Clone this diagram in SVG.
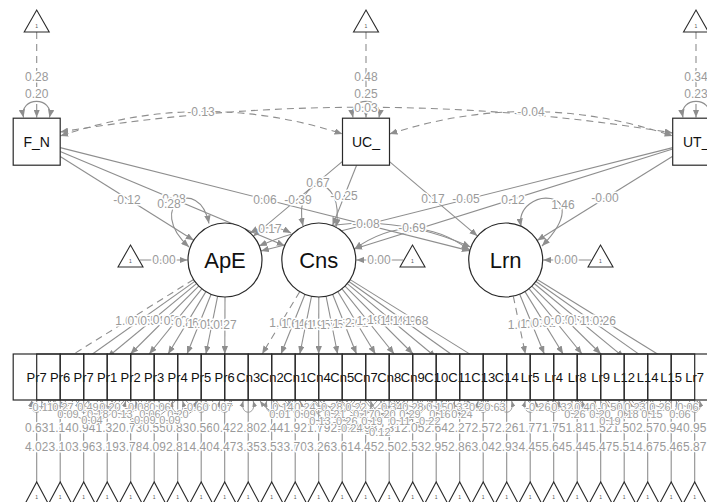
<svg xmlns="http://www.w3.org/2000/svg" width="707" height="502" viewBox="0 0 707 502">
<style>
.e{fill:none;stroke:#8e8e8e;stroke-width:1.1}
.r{fill:none;stroke:#9a9a9a;stroke-width:1}
.d{stroke-dasharray:7 5}
.a{marker-end:url(#ar)}
.b{marker-start:url(#ar);marker-end:url(#ar)}
.c{marker-start:url(#sm);marker-end:url(#sm)}
.l{font-family:"Liberation Sans",Arial,sans-serif;font-size:12px;fill:#9a9a9a;text-anchor:middle;paint-order:stroke;stroke:#fff;stroke-width:3px;stroke-linejoin:round}
.m{font-family:"Liberation Sans",Arial,sans-serif;font-size:11px;fill:#a0a0a0;text-anchor:middle;paint-order:stroke;stroke:#fff;stroke-width:2px;stroke-linejoin:round}
.n{fill:#fff;stroke:#2a2a2a;stroke-width:1.2}
.o{fill:none;stroke:#2a2a2a;stroke-width:1.2}
.t{font-family:"Liberation Sans",Arial,sans-serif;fill:#111;text-anchor:middle}
.s{font-size:13px}
.tr{fill:#fff;stroke:#2a2a2a;stroke-width:1.1}
.one{font-family:"Liberation Sans",Arial,sans-serif;font-size:5px;fill:#555;text-anchor:middle}
</style>
<defs>
<marker id="ar" viewBox="0 0 10 8" refX="10" refY="4" markerWidth="8" markerHeight="6.4" markerUnits="userSpaceOnUse" orient="auto-start-reverse"><path d="M0,0 L10,4 L0,8 z" fill="#8e8e8e"/></marker>
<marker id="sm" viewBox="0 0 10 8" refX="10" refY="4" markerWidth="6" markerHeight="4.8" markerUnits="userSpaceOnUse" orient="auto-start-reverse"><path d="M0,0 L10,4 L0,8 z" fill="#8e8e8e"/></marker>
</defs>
<rect width="707" height="502" fill="#fff"/>
<g id="connectors">
<path class="e d a" d="M36.7,32V117.5"/>
<path class="e d a" d="M366,32V117.5"/>
<path class="e d a" d="M696,32V117.5"/>
<path class="e b" d="M23.5,117.5C19,96 54,96 49.5,117.5"/>
<path class="e b" d="M353,117.5C348.5,96 383.5,96 379,117.5"/>
<path class="e b" d="M683,117.5C678.5,96 713.5,96 709,117.5"/>
<path class="e d b" d="M60.2,136Q201,88 342.5,134"/>
<path class="e d b" d="M60.2,132Q366,82 672.7,133"/>
<path class="e d b" d="M389.5,134Q531,88 672.7,136"/>
<path class="e a" d="M60.2,156.5L193.7,240.3"/>
<path class="e a" d="M60.2,151.6L284.7,245.7"/>
<path class="e a" d="M60.2,147.6L469.8,250.9"/>
<path class="e a" d="M342.5,161.4L253.3,236.2"/>
<path class="e a" d="M356.6,165.2L332.5,225.6"/>
<path class="e a" d="M389.5,161.6L477.5,236.1"/>
<path class="e a" d="M672.7,147.6L260.9,251"/>
<path class="e a" d="M672.7,149.1L354.1,248.9"/>
<path class="e a" d="M672.7,156.3L537.1,240.5"/>
<path class="e b" d="M209,223.5C199,174 144,206 189,247"/>
<path class="e b" d="M303,226C292,172 346,172 336,227"/>
<path class="e b" d="M521,226.5C514,186 600,186 542,246"/>
<path class="e b" d="M250,233Q270,222 291,233"/>
<path class="e b" d="M259,246Q366,200 470.5,247"/>
<path class="e b" d="M354.5,249Q412,208 469.5,250"/>
<path class="e a" d="M140,260H187.5"/>
<path class="e a" d="M403,260H356.3"/>
<path class="e a" d="M591,260H543.2"/>
<path class="e d a" d="M193.6,279.5L60.2,362.4"/>
<path class="e a" d="M194.8,281.4L83.7,360.3"/>
<path class="e a" d="M196.5,283.6L107.2,357.5"/>
<path class="e a" d="M198.7,286.1L130.4,354"/>
<path class="e a" d="M201.8,288.8L149.2,354"/>
<path class="e a" d="M205.9,291.6L168.1,354"/>
<path class="e a" d="M211.1,294.3L187,354"/>
<path class="e a" d="M217.6,296.3L205.9,354"/>
<path class="e a" d="M225,297L224.8,354"/>
<path class="e d a" d="M299.7,291.7L262.1,354"/>
<path class="e a" d="M305,294.3L281,354"/>
<path class="e a" d="M311.5,296.3L299.8,354"/>
<path class="e a" d="M318.8,297L318.7,354"/>
<path class="e a" d="M326.1,296.3L337.6,354"/>
<path class="e a" d="M332.6,294.3L356.5,354"/>
<path class="e a" d="M337.9,291.7L375.4,354"/>
<path class="e a" d="M342,288.9L394.2,354"/>
<path class="e a" d="M345,286.1L413.1,354"/>
<path class="e a" d="M347.3,283.6L436.2,357.5"/>
<path class="e a" d="M348.9,281.5L459.7,360.3"/>
<path class="e a" d="M350.2,279.6L483.2,362.4"/>
<path class="e d a" d="M513.3,296.2L525.4,354"/>
<path class="e a" d="M519.7,294.2L544.3,354"/>
<path class="e a" d="M525,291.6L563.1,354"/>
<path class="e a" d="M529,288.7L582,354"/>
<path class="e a" d="M532,286.3L600.9,354"/>
<path class="e a" d="M534.2,283.5L624.2,357.6"/>
<path class="e a" d="M535.7,281.2L647.7,360.4"/>
<path class="e a" d="M537.2,279.5L671.2,362.5"/>
<path class="e a" d="M36.7,482V401M60.2,482V401M83.7,482V401M107.2,482V401M130.7,482V401M154.2,482V401M177.7,482V401M201.2,482V401M224.7,482V401M248.2,482V401M271.7,482V401M295.2,482V401M318.7,482V401M342.2,482V401M365.7,482V401M389.2,482V401M412.7,482V401M436.2,482V401M459.7,482V401M483.2,482V401M506.7,482V401M530.2,482V401M553.7,482V401M577.2,482V401M600.7,482V401M624.2,482V401M647.7,482V401M671.2,482V401M694.7,482V401"/>
<g class="r c">
<path d="M31.7,401C27.7,416 45.7,416 41.7,401"/>
<path d="M55.2,401C51.2,416 69.2,416 65.2,401"/>
<path d="M78.7,401C74.7,416 92.7,416 88.7,401"/>
<path d="M102.2,401C98.2,416 116.2,416 112.2,401"/>
<path d="M125.7,401C121.7,416 139.7,416 135.7,401"/>
<path d="M149.2,401C145.2,416 163.2,416 159.2,401"/>
<path d="M172.7,401C168.7,416 186.7,416 182.7,401"/>
<path d="M196.2,401C192.2,416 210.2,416 206.2,401"/>
<path d="M219.7,401C215.7,416 233.7,416 229.7,401"/>
<path d="M243.2,401C239.2,416 257.2,416 253.2,401"/>
<path d="M266.7,401C262.7,416 280.7,416 276.7,401"/>
<path d="M290.2,401C286.2,416 304.2,416 300.2,401"/>
<path d="M313.7,401C309.7,416 327.7,416 323.7,401"/>
<path d="M337.2,401C333.2,416 351.2,416 347.2,401"/>
<path d="M360.7,401C356.7,416 374.7,416 370.7,401"/>
<path d="M384.2,401C380.2,416 398.2,416 394.2,401"/>
<path d="M407.7,401C403.7,416 421.7,416 417.7,401"/>
<path d="M431.2,401C427.2,416 445.2,416 441.2,401"/>
<path d="M454.7,401C450.7,416 468.7,416 464.7,401"/>
<path d="M478.2,401C474.2,416 492.2,416 488.2,401"/>
<path d="M501.7,401C497.7,416 515.7,416 511.7,401"/>
<path d="M525.2,401C521.2,416 539.2,416 535.2,401"/>
<path d="M548.7,401C544.7,416 562.7,416 558.7,401"/>
<path d="M572.2,401C568.2,416 586.2,416 582.2,401"/>
<path d="M595.7,401C591.7,416 609.7,416 605.7,401"/>
<path d="M619.2,401C615.2,416 633.2,416 629.2,401"/>
<path d="M642.7,401C638.7,416 656.7,416 652.7,401"/>
<path d="M666.2,401C662.2,416 680.2,416 676.2,401"/>
<path d="M689.7,401C685.7,416 703.7,416 699.7,401"/>
<path d="M31,401Q41,413 51,401M53,401Q63,413 73,401M78,401Q88,413 98,401M100,401Q110,413 120,401M127,401Q137,413 147,401M150,401Q160,413 170,401M186,401Q196,413 206,401M212,401Q222,413 232,401"/>
<path d="M48,401Q68,427 88,401M76,401Q96,427 116,401M102,401Q122,427 142,401M130,401Q150,427 170,401M158,401Q178,427 198,401"/>
<path d="M60,401Q92,441 124,401M111,401Q143,441 175,401M138,401Q170,441 202,401"/>
<path d="M273,401Q283,413 293,401M295,401Q305,413 315,401M320,401Q330,413 340,401M346,401Q356,413 366,401M380,401Q390,413 400,401M403,401Q413,413 423,401M427,401Q437,413 447,401M448,401Q458,413 468,401"/>
<path d="M260,401Q280,427 300,401M285,401Q305,427 325,401M315,401Q335,427 355,401M342,401Q362,427 382,401M365,401Q385,427 405,401M390,401Q410,427 430,401M420,401Q440,427 460,401M442,401Q462,427 482,401"/>
<path d="M288,401Q320,441 352,401M313,401Q345,441 377,401M340,401Q372,441 404,401M368,401Q400,441 432,401M396,401Q428,441 460,401M305,401Q350,455 395,401M323,401Q378,461 433,401"/>
<path d="M468,401Q478,413 488,401M485,401Q495,413 505,401M528,401Q538,413 548,401M552,401Q562,413 572,401M575,401Q585,413 595,401M600,401Q610,413 620,401M625,401Q635,413 645,401M650,401Q660,413 670,401M678,401Q688,413 698,401"/>
<path d="M555,401Q575,427 595,401M580,401Q600,427 620,401M608,401Q628,427 648,401M632,401Q652,427 672,401M660,401Q680,427 700,401M578,401Q610,441 642,401"/>
</g>
<g class="l">
<text x="36.7" y="81">0.28</text><text x="36.7" y="98">0.20</text>
<text x="366" y="81">0.48</text><text x="366" y="98">0.25</text>
<text x="696" y="81">0.34</text><text x="696" y="98">0.23</text>
<text x="201" y="116">-0.13</text><text x="366" y="112">0.03</text><text x="531" y="116">-0.04</text>
<text x="127" y="204">-0.12</text><text x="172" y="203">-0.28</text><text x="169" y="208">0.28</text>
<text x="265" y="204">0.06</text><text x="298" y="204">-0.39</text><text x="318" y="187">0.67</text>
<text x="344" y="200">-0.25</text><text x="433" y="203">0.17</text><text x="466" y="203">-0.05</text>
<text x="513" y="204">0.12</text><text x="563" y="209">1.46</text><text x="605" y="202">-0.00</text>
<text x="270" y="233">0.17</text><text x="366" y="228">-0.08</text><text x="412" y="232">-0.69</text>
<text x="164" y="264">0.00</text><text x="379" y="264">0.00</text><text x="566" y="264">0.00</text>
<text x="126.9" y="325">1.00</text><text x="139.2" y="325">0.65</text><text x="151.9" y="325">0.54</text><text x="164.5" y="324">0.69</text><text x="175.5" y="325">0.80</text><text x="187" y="327">0.86</text><text x="199" y="328">1.14</text><text x="211.8" y="329">0.34</text><text x="225" y="329">0.27</text>
<text x="280.9" y="327">1.00</text><text x="293" y="328">1.64</text><text x="305.6" y="329">1.61</text><text x="318.8" y="329">1.95</text><text x="331.8" y="329">1.75</text><text x="344.5" y="328">1.78</text><text x="356.7" y="327">2.02</text><text x="368.1" y="325">1.88</text><text x="379" y="324">1.84</text><text x="391.7" y="325">1.54</text><text x="404.3" y="325">1.89</text><text x="416.7" y="325">1.68</text>
<text x="519.4" y="329">1.00</text><text x="532" y="328">1.09</text><text x="544" y="327">0.92</text><text x="555.5" y="325">0.47</text><text x="566.5" y="324">0.91</text><text x="579.2" y="325">0.71</text><text x="591.7" y="325">1.19</text><text x="604.2" y="325">0.26</text>
<text x="36.7" y="432">0.63</text><text x="60.2" y="432">1.14</text><text x="83.7" y="432">0.94</text><text x="107.2" y="432">1.32</text><text x="130.7" y="432">0.73</text><text x="154.2" y="432">0.55</text><text x="177.7" y="432">0.83</text><text x="201.2" y="432">0.56</text><text x="224.7" y="432">0.42</text><text x="248.2" y="432">2.80</text><text x="271.7" y="432">2.44</text><text x="295.2" y="432">1.92</text><text x="318.7" y="432">1.79</text><text x="342.2" y="432">2.12</text><text x="365.7" y="432">1.98</text><text x="389.2" y="432">2.31</text><text x="412.7" y="432">2.05</text><text x="436.2" y="432">2.64</text><text x="459.7" y="432">2.27</text><text x="483.2" y="432">2.57</text><text x="506.7" y="432">2.26</text><text x="530.2" y="432">1.77</text><text x="553.7" y="432">1.75</text><text x="577.2" y="432">1.81</text><text x="600.7" y="432">1.52</text><text x="624.2" y="432">1.50</text><text x="647.7" y="432">2.57</text><text x="671.2" y="432">0.94</text><text x="694.7" y="432">0.95</text>
</g>
<g class="m">
<text x="41" y="411">-0.11</text><text x="63" y="411">0.27</text><text x="88" y="411">0.49</text><text x="110" y="411">0.20</text><text x="137" y="411">-0.08</text><text x="160" y="411">0.06</text><text x="196" y="411">-0.60</text><text x="222" y="411">0.07</text>
<text x="68" y="418">0.09</text><text x="96" y="418">-0.18</text><text x="122" y="418">0.13</text><text x="150" y="418">0.06</text><text x="178" y="418">0.20</text>
<text x="92" y="424">0.04</text><text x="143" y="424">-0.09</text><text x="170" y="424">0.09</text>
<text x="283" y="411">0.14</text><text x="305" y="411">0.24</text><text x="330" y="411">-0.28</text><text x="356" y="411">0.22</text><text x="390" y="411">-0.34</text><text x="413" y="411">0.28</text><text x="437" y="411">0.15</text><text x="458" y="411">0.33</text>
<text x="280" y="418">0.01</text><text x="305" y="418">0.09</text><text x="335" y="418">0.21</text><text x="362" y="418">-0.17</text><text x="385" y="418">0.20</text><text x="410" y="418">0.29</text><text x="440" y="418">0.16</text><text x="462" y="418">0.24</text>
<text x="320" y="425">0.13</text><text x="345" y="425">-0.26</text><text x="372" y="425">0.19</text><text x="400" y="425">0.11</text><text x="428" y="425">-0.22</text>
<text x="350" y="432">-0.24</text><text x="378" y="436">-0.12</text>
<text x="478" y="411">-0.24</text><text x="495" y="411">0.63</text><text x="538" y="411">-0.26</text><text x="562" y="411">0.32</text><text x="585" y="411">0.40</text><text x="610" y="411">-0.50</text><text x="635" y="411">0.23</text><text x="660" y="411">0.26</text><text x="688" y="411">0.06</text>
<text x="575" y="418">0.26</text><text x="600" y="418">0.20</text><text x="628" y="418">0.18</text><text x="652" y="418">0.15</text><text x="680" y="418">0.06</text>
<text x="610" y="425">0.19</text>
</g>
<g class="l">
<text x="36.7" y="451">4.02</text><text x="60.2" y="451">3.10</text><text x="83.7" y="451">3.96</text><text x="107.2" y="451">3.19</text><text x="130.7" y="451">3.78</text><text x="154.2" y="451">4.09</text><text x="177.7" y="451">2.81</text><text x="201.2" y="451">4.40</text><text x="224.7" y="451">4.47</text><text x="248.2" y="451">3.35</text><text x="271.7" y="451">3.53</text><text x="295.2" y="451">3.70</text><text x="318.7" y="451">3.26</text><text x="342.2" y="451">3.61</text><text x="365.7" y="451">4.45</text><text x="389.2" y="451">2.50</text><text x="412.7" y="451">2.53</text><text x="436.2" y="451">2.95</text><text x="459.7" y="451">2.86</text><text x="483.2" y="451">3.04</text><text x="506.7" y="451">2.93</text><text x="530.2" y="451">4.45</text><text x="553.7" y="451">5.64</text><text x="577.2" y="451">5.44</text><text x="600.7" y="451">5.47</text><text x="624.2" y="451">5.51</text><text x="647.7" y="451">4.67</text><text x="671.2" y="451">5.46</text><text x="694.7" y="451">5.87</text>
</g>
</g>
<g id="nodes">
<g id="t-F_N"><polygon class="tr" points="24.2,32 36.7,10 49.2,32"/><text class="one" x="36.7" y="28">1</text></g>
<g id="t-UC_"><polygon class="tr" points="353.5,32 366,10 378.5,32"/><text class="one" x="366" y="28">1</text></g>
<g id="t-UT_"><polygon class="tr" points="683.5,32 696,10 708.5,32"/><text class="one" x="696" y="28">1</text></g>
<g id="F_N"><rect class="n" x="13.2" y="118.2" width="47" height="47"/><text class="t" x="36.7" y="146.5" font-size="14">F_N</text></g>
<g id="UC_"><rect class="n" x="342.5" y="118.2" width="47" height="47"/><text class="t" x="366" y="146.5" font-size="14">UC_</text></g>
<g id="UT_"><rect class="n" x="672.7" y="118.2" width="47" height="47"/><text class="t" x="696.2" y="146.5" font-size="14">UT_</text></g>
<g id="ApE"><circle class="n" cx="225" cy="260" r="37"/><text class="t" x="225" y="268" font-size="22">ApE</text></g>
<g id="Cns"><circle class="n" cx="318.8" cy="260" r="37"/><text class="t" x="318.8" y="268" font-size="22">Cns</text></g>
<g id="Lrn"><circle class="n" cx="505.7" cy="260" r="37"/><text class="t" x="505.7" y="268" font-size="22">Lrn</text></g>
<g id="t-ApE"><polygon class="tr" points="118,267 130.5,245 143,267"/><text class="one" x="130.5" y="263">1</text></g>
<g id="t-Cns"><polygon class="tr" points="400,267 412.5,245 425,267"/><text class="one" x="412.5" y="263">1</text></g>
<g id="t-Lrn"><polygon class="tr" points="588,267 600.5,245 613,267"/><text class="one" x="600.5" y="263">1</text></g>
<rect id="indicator-row" x="13.2" y="354" width="705" height="46" fill="#fff"/>
<g class="t s">
<g id="i1"><rect class="o" x="13.2" y="354" width="47" height="46"/><text x="36.7" y="381.5">Pr7</text></g>
<g id="i2"><rect class="o" x="36.7" y="354" width="47" height="46"/><text x="60.2" y="381.5">Pr6</text></g>
<g id="i3"><rect class="o" x="60.2" y="354" width="47" height="46"/><text x="83.7" y="381.5">Pr7</text></g>
<g id="i4"><rect class="o" x="83.7" y="354" width="47" height="46"/><text x="107.2" y="381.5">Pr1</text></g>
<g id="i5"><rect class="o" x="107.2" y="354" width="47" height="46"/><text x="130.7" y="381.5">Pr2</text></g>
<g id="i6"><rect class="o" x="130.7" y="354" width="47" height="46"/><text x="154.2" y="381.5">Pr3</text></g>
<g id="i7"><rect class="o" x="154.2" y="354" width="47" height="46"/><text x="177.7" y="381.5">Pr4</text></g>
<g id="i8"><rect class="o" x="177.7" y="354" width="47" height="46"/><text x="201.2" y="381.5">Pr5</text></g>
<g id="i9"><rect class="o" x="201.2" y="354" width="47" height="46"/><text x="224.7" y="381.5">Pr6</text></g>
<g id="i10"><rect class="o" x="224.7" y="354" width="47" height="46"/><text x="248.2" y="381.5">Cn3</text></g>
<g id="i11"><rect class="o" x="248.2" y="354" width="47" height="46"/><text x="271.7" y="381.5">Cn2</text></g>
<g id="i12"><rect class="o" x="271.7" y="354" width="47" height="46"/><text x="295.2" y="381.5">Cn1</text></g>
<g id="i13"><rect class="o" x="295.2" y="354" width="47" height="46"/><text x="318.7" y="381.5">Cn4</text></g>
<g id="i14"><rect class="o" x="318.7" y="354" width="47" height="46"/><text x="342.2" y="381.5">Cn5</text></g>
<g id="i15"><rect class="o" x="342.2" y="354" width="47" height="46"/><text x="365.7" y="381.5">Cn7</text></g>
<g id="i16"><rect class="o" x="365.7" y="354" width="47" height="46"/><text x="389.2" y="381.5">Cn8</text></g>
<g id="i17"><rect class="o" x="389.2" y="354" width="47" height="46"/><text x="412.7" y="381.5">Cn9</text></g>
<g id="i18"><rect class="o" x="412.7" y="354" width="47" height="46"/><text x="436.2" y="381.5">C10</text></g>
<g id="i19"><rect class="o" x="436.2" y="354" width="47" height="46"/><text x="459.7" y="381.5">C11</text></g>
<g id="i20"><rect class="o" x="459.7" y="354" width="47" height="46"/><text x="483.2" y="381.5">C13</text></g>
<g id="i21"><rect class="o" x="483.2" y="354" width="47" height="46"/><text x="506.7" y="381.5">C14</text></g>
<g id="i22"><rect class="o" x="506.7" y="354" width="47" height="46"/><text x="530.2" y="381.5">Lr5</text></g>
<g id="i23"><rect class="o" x="530.2" y="354" width="47" height="46"/><text x="553.7" y="381.5">Lr4</text></g>
<g id="i24"><rect class="o" x="553.7" y="354" width="47" height="46"/><text x="577.2" y="381.5">Lr8</text></g>
<g id="i25"><rect class="o" x="577.2" y="354" width="47" height="46"/><text x="600.7" y="381.5">Lr9</text></g>
<g id="i26"><rect class="o" x="600.7" y="354" width="47" height="46"/><text x="624.2" y="381.5">L12</text></g>
<g id="i27"><rect class="o" x="624.2" y="354" width="47" height="46"/><text x="647.7" y="381.5">L14</text></g>
<g id="i28"><rect class="o" x="647.7" y="354" width="47" height="46"/><text x="671.2" y="381.5">L15</text></g>
<g id="i29"><rect class="o" x="671.2" y="354" width="47" height="46"/><text x="694.7" y="381.5">Lr7</text></g>
</g>
<g class="tr">
<g id="ti1"><polygon points="24.95,504 36.7,482 48.45,504"/></g>
<g id="ti2"><polygon points="48.45,504 60.2,482 71.95,504"/></g>
<g id="ti3"><polygon points="71.95,504 83.7,482 95.45,504"/></g>
<g id="ti4"><polygon points="95.45,504 107.2,482 118.95,504"/></g>
<g id="ti5"><polygon points="118.95,504 130.7,482 142.45,504"/></g>
<g id="ti6"><polygon points="142.45,504 154.2,482 165.95,504"/></g>
<g id="ti7"><polygon points="165.95,504 177.7,482 189.45,504"/></g>
<g id="ti8"><polygon points="189.45,504 201.2,482 212.95,504"/></g>
<g id="ti9"><polygon points="212.95,504 224.7,482 236.45,504"/></g>
<g id="ti10"><polygon points="236.45,504 248.2,482 259.95,504"/></g>
<g id="ti11"><polygon points="259.95,504 271.7,482 283.45,504"/></g>
<g id="ti12"><polygon points="283.45,504 295.2,482 306.95,504"/></g>
<g id="ti13"><polygon points="306.95,504 318.7,482 330.45,504"/></g>
<g id="ti14"><polygon points="330.45,504 342.2,482 353.95,504"/></g>
<g id="ti15"><polygon points="353.95,504 365.7,482 377.45,504"/></g>
<g id="ti16"><polygon points="377.45,504 389.2,482 400.95,504"/></g>
<g id="ti17"><polygon points="400.95,504 412.7,482 424.45,504"/></g>
<g id="ti18"><polygon points="424.45,504 436.2,482 447.95,504"/></g>
<g id="ti19"><polygon points="447.95,504 459.7,482 471.45,504"/></g>
<g id="ti20"><polygon points="471.45,504 483.2,482 494.95,504"/></g>
<g id="ti21"><polygon points="494.95,504 506.7,482 518.45,504"/></g>
<g id="ti22"><polygon points="518.45,504 530.2,482 541.95,504"/></g>
<g id="ti23"><polygon points="541.95,504 553.7,482 565.45,504"/></g>
<g id="ti24"><polygon points="565.45,504 577.2,482 588.95,504"/></g>
<g id="ti25"><polygon points="588.95,504 600.7,482 612.45,504"/></g>
<g id="ti26"><polygon points="612.45,504 624.2,482 635.95,504"/></g>
<g id="ti27"><polygon points="635.95,504 647.7,482 659.45,504"/></g>
<g id="ti28"><polygon points="659.45,504 671.2,482 682.95,504"/></g>
<g id="ti29"><polygon points="682.95,504 694.7,482 706.45,504"/></g>
</g>
<g class="one">
<text x="36.7" y="499">1</text><text x="60.2" y="499">1</text><text x="83.7" y="499">1</text><text x="107.2" y="499">1</text><text x="130.7" y="499">1</text><text x="154.2" y="499">1</text><text x="177.7" y="499">1</text><text x="201.2" y="499">1</text><text x="224.7" y="499">1</text><text x="248.2" y="499">1</text><text x="271.7" y="499">1</text><text x="295.2" y="499">1</text><text x="318.7" y="499">1</text><text x="342.2" y="499">1</text><text x="365.7" y="499">1</text><text x="389.2" y="499">1</text><text x="412.7" y="499">1</text><text x="436.2" y="499">1</text><text x="459.7" y="499">1</text><text x="483.2" y="499">1</text><text x="506.7" y="499">1</text><text x="530.2" y="499">1</text><text x="553.7" y="499">1</text><text x="577.2" y="499">1</text><text x="600.7" y="499">1</text><text x="624.2" y="499">1</text><text x="647.7" y="499">1</text><text x="671.2" y="499">1</text><text x="694.7" y="499">1</text>
</g>
</g>
</svg>
